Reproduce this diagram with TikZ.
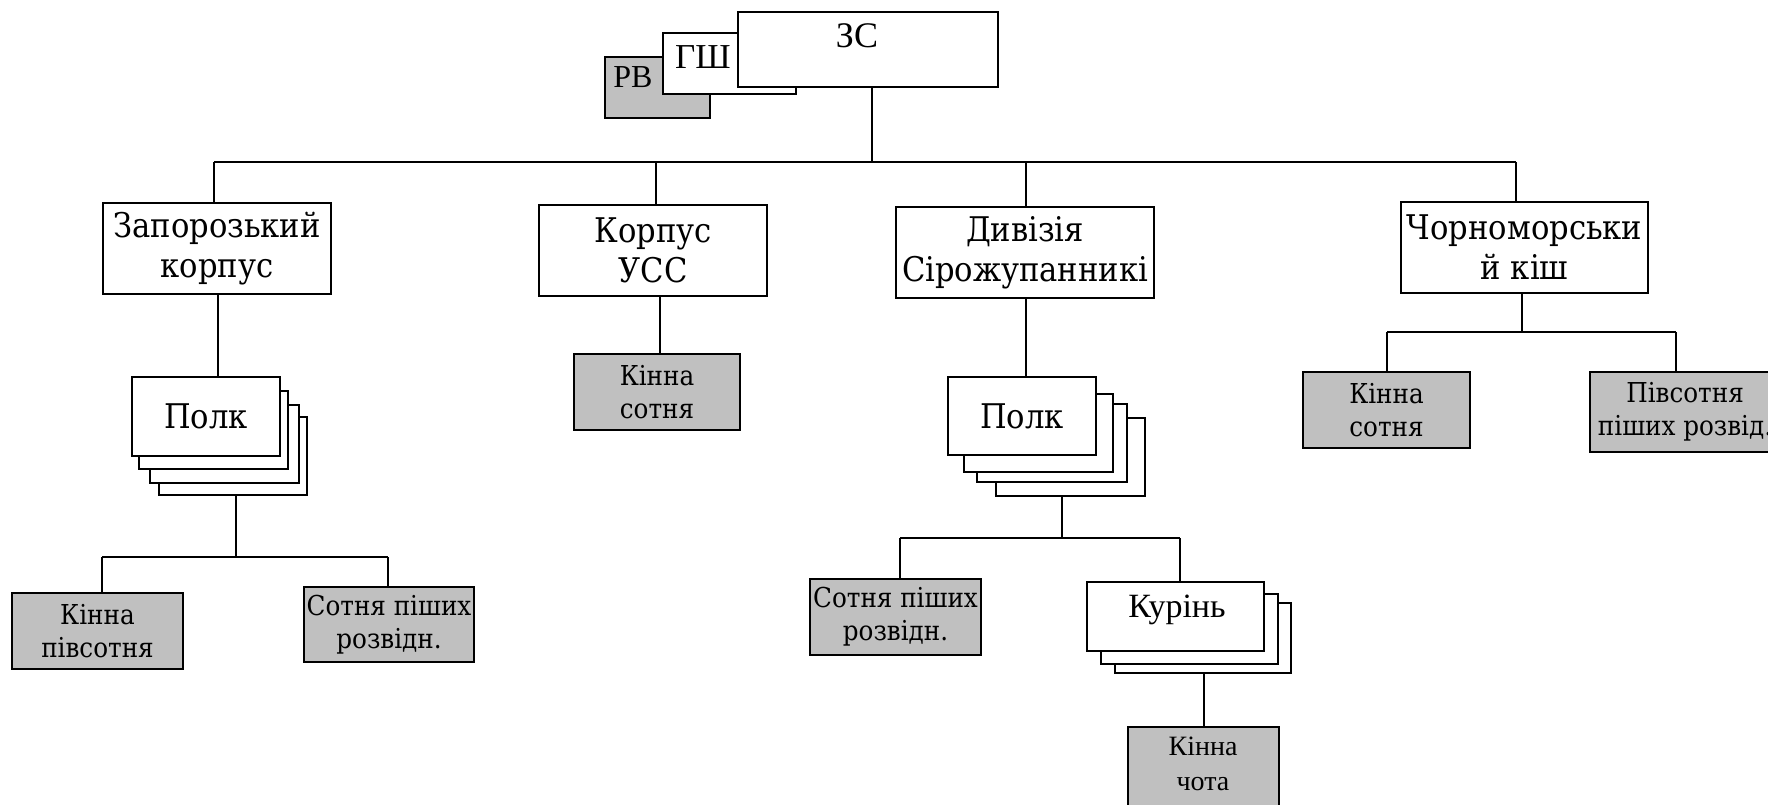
\documentclass[tikz,border=0pt]{standalone}
\usepackage{fontspec}
\setmainfont{DejaVu Serif Condensed}
\newfontfamily\tnr{Liberation Serif}
\usetikzlibrary{fit}
\definecolor{boxgray}{RGB}{192,192,192}
\begin{document}
\begin{tikzpicture}[x=0.5pt,y=-0.5pt,
  box/.style={draw, fill=white, inner sep=0pt, line width=0.95pt},
  gbox/.style={box, fill=boxgray},
  big/.style={font=\fontsize{17}{20}\selectfont, align=center, inner sep=0pt},
  small/.style={font=\fontsize{13.7}{16.5}\selectfont, align=center, inner sep=0pt},
  link/.style={draw, line width=0.95pt}]
\useasboundingbox (0,0) rectangle (1768,804);

% top
\node[gbox, fit={(605,57) (710,118)}] (rv) {};
\node[font=\tnr\fontsize{16}{16}\selectfont, anchor=base, inner sep=0pt] (rvt) at (633,87) {РВ};
\node[box, fit={(663,33) (796,94)}] (gsh) {};
\node[font=\tnr\fontsize{17.5}{18}\selectfont, anchor=base, inner sep=0pt] (gsht) at (703,68) {ГШ};
\node[box, fit={(738,12) (998,87)}] (zs) {};
\node[font=\tnr\fontsize{18}{18}\selectfont, anchor=base, inner sep=0pt] (zst) at (857,47) {ЗС};

% level 1
\node[box, fit={(103,203) (331,294)}] (zk) {};
\node[big] (zkt) at (zk) {Запорозький\\корпус};
\node[box, fit={(539,205) (767,296)}] (uss) {};
\node[big] (usst) at (uss) {Корпус\\УСС};
\node[box, fit={(896,207) (1154,298)}] (div) {};
\node[big] (divt) at (div) {Дивізія\\Сірожупанникі};
\node[box, fit={(1401,202) (1648,293)}] (chk) {};
\node[big] (chkt) at (chk) {Чорноморськи\\й кіш};

\coordinate (bl) at (214,162);
\coordinate (br) at (1516,162);
\coordinate (bu) at (656,162);
\coordinate (bd) at (1026,162);
\draw[link] (zs.south -| 872,0) -- (872,162);
\draw[link] (bl) -- (br);
\draw[link] (bl) -- (zk.north -| bl);
\draw[link] (bu) -- (uss.north -| bu);
\draw[link] (bd) -- (div.north -| bd);
\draw[link] (br) -- (chk.north -| br);

% Zaporozkyi
\node[box, fit={(159,417) (307,495)}] (zp4) {};
\node[box, fit={(150,405) (299,483)}] (zp3) {};
\node[box, fit={(139,391) (288,469)}] (zp2) {};
\node[box, fit={(132,377) (280,456)}] (zp1) {};
\node[big] (zp1t) at (zp1) {Полк};
\draw[link] (zk.south -| 218,0) -- (zp1.north -| 218,0);
\node[gbox, fit={(12,593) (183,669)}] (kps) {};
\node[small] (kpst) at (kps) {Кінна\\півсотня};
\node[gbox, fit={(304,587) (474,662)}] (sps) {};
\node[small] (spst) at (sps) {Сотня піших\\розвідн.};
\coordinate (za) at (236,557);
\coordinate (zl) at (102,557);
\coordinate (zr) at (388,557);
\draw[link] (zp4.south -| za) -- (za);
\draw[link] (zl) -- (zr);
\draw[link] (zl) -- (kps.north -| zl);
\draw[link] (zr) -- (sps.north -| zr);

% USS
\node[gbox, fit={(574,354) (740,430)}] (ks1) {};
\node[small] (ks1t) at (ks1) {Кінна\\сотня};
\draw[link] (uss.south -| 660,0) -- (ks1.north -| 660,0);

% Dyviziia
\node[box, fit={(996,418) (1145,496)}] (dp4) {};
\node[box, fit={(977,404) (1127,482)}] (dp3) {};
\node[box, fit={(964,394) (1113,472)}] (dp2) {};
\node[box, fit={(948,377) (1096,455)}] (dp1) {};
\node[big] (dp1t) at (dp1) {Полк};
\draw[link] (div.south -| bd) -- (dp1.north -| bd);
\node[gbox, fit={(810,579) (981,655)}] (dsp) {};
\node[small] (dspt) at (dsp) {Сотня піших\\розвідн.};
\node[box, fit={(1115,603) (1291,673)}] (kr3) {};
\node[box, fit={(1101,594) (1278,664)}] (kr2) {};
\node[box, fit={(1087,582) (1264,651)}] (kr1) {};
\node[font=\tnr\fontsize{17}{17}\selectfont, anchor=base, inner sep=0pt] (kr1t) at (1177,617) {Курінь};
\coordinate (da) at (1062,538);
\coordinate (dl) at (900,538);
\coordinate (dr) at (1180,538);
\draw[link] (dp4.south -| da) -- (da);
\draw[link] (dl) -- (dr);
\draw[link] (dl) -- (dsp.north -| dl);
\draw[link] (dr) -- (kr1.north -| dr);
\node[gbox, fit={(1128,727) (1279,808)}] (kch) {};
\node[font=\tnr\fontsize{14}{17.5}\selectfont, align=center, inner sep=0pt] (kcht) at (1203,764) {Кінна\\чота};
\draw[link] (kr3.south -| 1204,0) -- (kch.north -| 1204,0);

% Chornomorskyi
\coordinate (ca) at (1522,332);
\coordinate (cl) at (1387,332);
\coordinate (cr) at (1676,332);
\node[gbox, fit={(1303,372) (1470,448)}] (ks2) {};
\node[small] (ks2t) at (ks2) {Кінна\\сотня};
\node[gbox, fit={(1590,372) (1780,452)}] (ps) {};
\node[small] (pst) at (1685,412) {Півсотня\\піших розвід.};
\draw[link] (chk.south -| ca) -- (ca);
\draw[link] (cl) -- (cr);
\draw[link] (cl) -- (ks2.north -| cl);
\draw[link] (cr) -- (ps.north -| cr);
\end{tikzpicture}
\end{document}
